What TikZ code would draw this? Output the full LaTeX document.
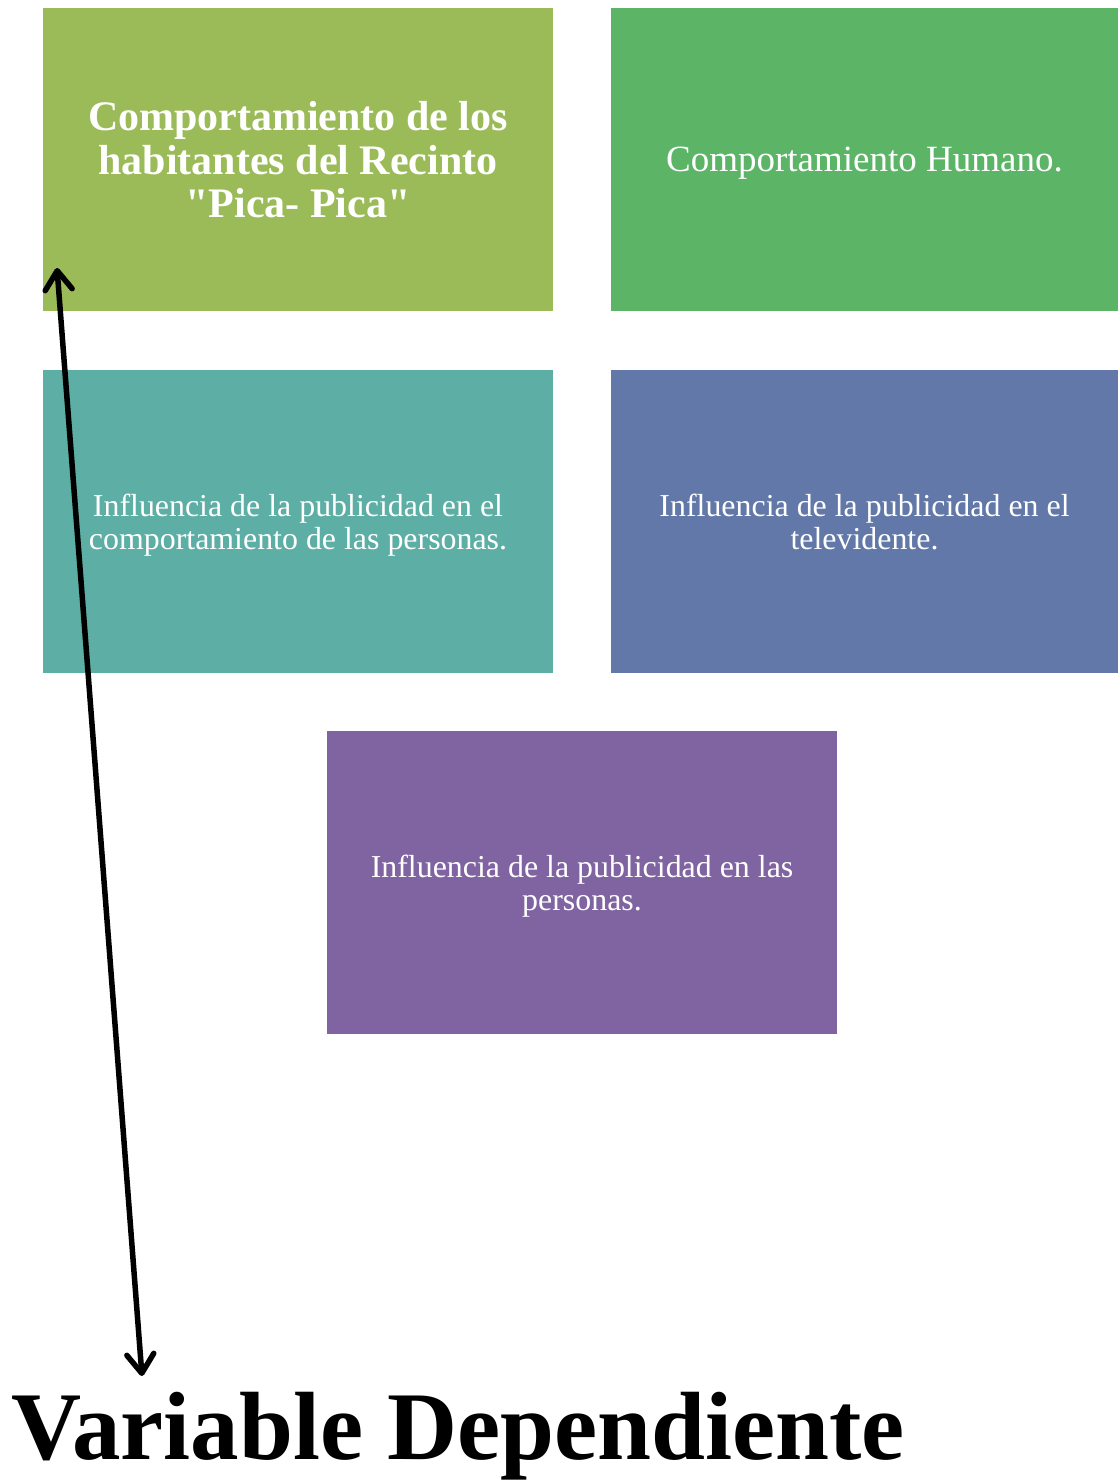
\documentclass[tikz,border=0pt]{standalone}
\usepackage{fontspec}
\setmainfont{Liberation Serif}
\usetikzlibrary{arrows.meta}

\definecolor{olive}{HTML}{9BBB59}
\definecolor{leaf}{HTML}{5CB567}
\definecolor{teal2}{HTML}{5DAEA5}
\definecolor{slate}{HTML}{6278A8}
\definecolor{plum}{HTML}{8064A1}

% straight double quote, without the TeX ligature mapping
\newcommand\strq{{\addfontfeatures{Ligatures=TeXOff}\char"22}}

\tikzset{
  card/.style={rectangle, fill=#1, draw=none, inner sep=0pt,
    text=white, align=center, minimum height=303pt, text depth=0pt},
  bigtitle/.style={font=\fontsize{42}{43.5}\selectfont\bfseries},
  midtitle/.style={font=\fontsize{37}{40}\selectfont},
  bodytext/.style={font=\fontsize{31.9}{33}\selectfont},
  barb/.tip={Straight Barb[length=19pt,width=27pt,line cap=round,line join=round]},
  dblarrow/.style={line width=5.5pt, line cap=round, barb-barb}
}

\begin{document}
\begin{tikzpicture}[x=1pt,y=-1pt]
  \useasboundingbox (0,0) rectangle (1118,1482);

  % upper row
  \node[card=olive, minimum width=510pt, bigtitle] (b1) at (298,159.5)
    {Comportamiento de los\\habitantes del Recinto\\\strq Pica- Pica\strq};
  \node[card=leaf, minimum width=507pt, midtitle] (b2) at (864.5,159.5)
    {Comportamiento Humano.};

  % middle row
  \node[card=teal2, minimum width=510pt, bodytext] (b3) at (298,521.5)
    {Influencia de la publicidad en el\\comportamiento de las personas.};
  \node[card=slate, minimum width=507pt, bodytext] (b4) at (864.5,521.5)
    {Influencia de la publicidad en el\\televidente.};

  % lower box
  \node[card=plum, minimum width=510pt, bodytext] (b5) at (582,882.5)
    {Influencia de la publicidad en las\\personas.};

  % label and double-headed arrow
  \node[anchor=base west, inner sep=0pt,
        font=\fontsize{97}{100}\selectfont\bfseries] (lbl) at (11,1459)
    {Variable Dependiente};

  \coordinate (tip1) at (57,268);
  \coordinate (tip2) at (142,1376);
  \draw[dblarrow] (tip1) -- (tip2);
\end{tikzpicture}
\end{document}
